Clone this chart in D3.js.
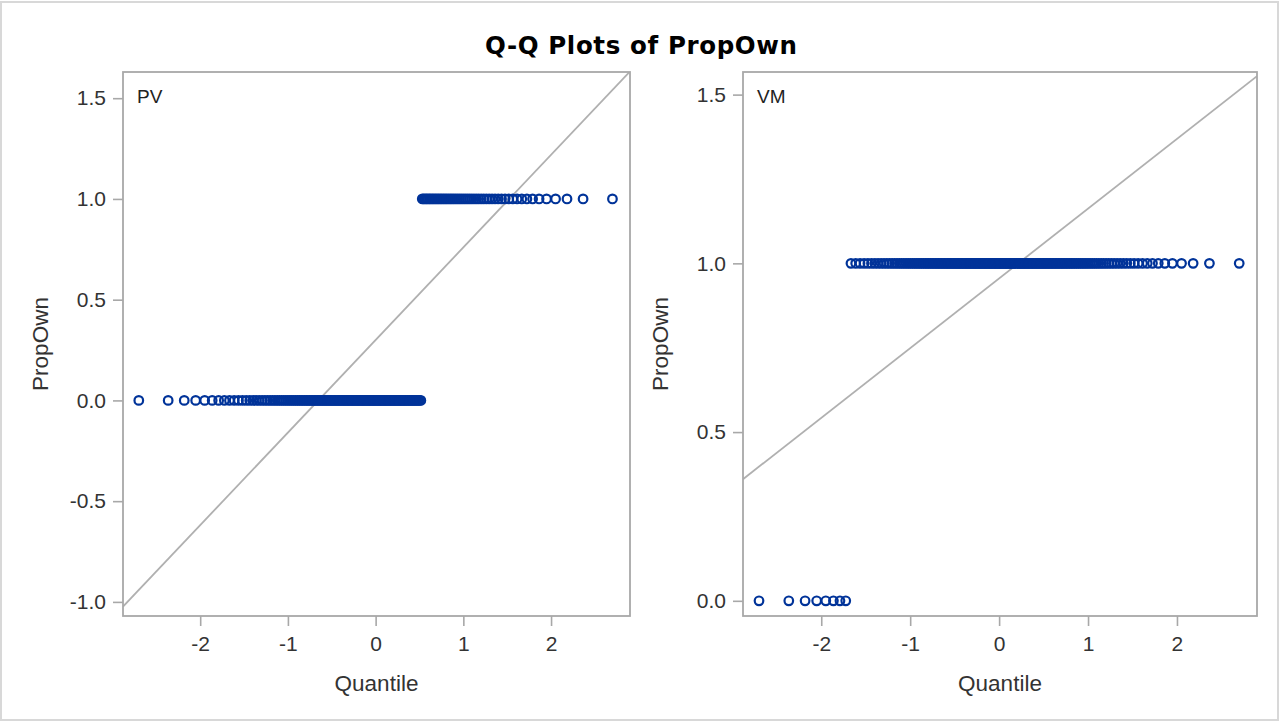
<!DOCTYPE html>
<html>
<head>
<meta charset="utf-8">
<script src="https://cdn.jsdelivr.net/npm/d3@7"></script>
<style>
  html, body { margin: 0; padding: 0; background: #fff; }
  svg { display: block; }
</style>
</head>
<body>
<svg id="chart" width="1280" height="722"></svg>
<script>
// PropOwn is a 0/1 variable; each panel holds one group's sample.
const groups = ["PV", "VM"];
const zeroCounts = [126, 8];   // observations with PropOwn = 0
const oneCounts = [54, 172];   // observations with PropOwn = 1

const xTicks = [-2, -1, 0, 1, 2];
const yTicksByGroup = [
  [-1.0, -0.5, 0.0, 0.5, 1.0, 1.5],
  [0.0, 0.5, 1.0, 1.5]
];
const xDomain = [-2.88, 2.90];
const yDomains = [[-1.07, 1.63], [-0.045, 1.567]];

const title = "Q-Q Plots of PropOwn";
const xLabel = "Quantile";
const yLabel = "PropOwn";

// Panel frames
const panels = [
  { x0: 123, x1: 630, y0: 72, y1: 616 },
  { x0: 743, x1: 1257, y0: 72, y1: 616 }
];

const markerColor = "#003399";
const refColor = "#b0b0b0";
const frameColor = "#a8a8a8";
const textColor = "#333333";
const fontFamily = "'Liberation Sans', Arial, sans-serif";

// Inverse standard normal CDF (Acklam's rational approximation)
function probit(p) {
  const a = [-3.969683028665376e+01, 2.209460984245205e+02, -2.759285104469687e+02,
             1.383577518672690e+02, -3.066479806614716e+01, 2.506628277459239e+00];
  const b = [-5.447609879822406e+01, 1.615858368580409e+02, -1.556989798598866e+02,
             6.680131188771972e+01, -1.328068155288572e+01];
  const c = [-7.784894002430293e-03, -3.223964580411365e-01, -2.400758277161838e+00,
             -2.549732539343734e+00, 4.374664141464968e+00, 2.938163982698783e+00];
  const d = [7.784695709041462e-03, 3.224671290700398e-01, 2.445134137142996e+00,
             3.754408661907416e+00];
  const pl = 0.02425, ph = 1 - pl;
  let q, r;
  if (p < pl) {
    q = Math.sqrt(-2 * Math.log(p));
    return (((((c[0]*q+c[1])*q+c[2])*q+c[3])*q+c[4])*q+c[5]) /
           ((((d[0]*q+d[1])*q+d[2])*q+d[3])*q+1);
  }
  if (p <= ph) {
    q = p - 0.5; r = q * q;
    return (((((a[0]*r+a[1])*r+a[2])*r+a[3])*r+a[4])*r+a[5])*q /
           (((((b[0]*r+b[1])*r+b[2])*r+b[3])*r+b[4])*r+1);
  }
  q = Math.sqrt(-2 * Math.log(1 - p));
  return -(((((c[0]*q+c[1])*q+c[2])*q+c[3])*q+c[4])*q+c[5]) /
          ((((d[0]*q+d[1])*q+d[2])*q+d[3])*q+1);
}

const fmt = v => d3.format(".1f")(v).replace("\u2212", "-");
const fmtX = v => d3.format("d")(v).replace("\u2212", "-");

const svg = d3.select("#chart");

// Outer border
svg.append("rect")
  .attr("x", 1).attr("y", 2).attr("width", 1277).attr("height", 718)
  .attr("fill", "#fff").attr("stroke", "#d8d8d8").attr("stroke-width", 2);

// Title
svg.append("text")
  .attr("x", 641).attr("y", 54)
  .attr("text-anchor", "middle")
  .attr("font-family", "'DejaVu Sans', Verdana, sans-serif")
  .attr("font-weight", "bold")
  .attr("font-size", 24.5)
  .attr("fill", "#000")
  .attr("textLength", 312)
  .attr("lengthAdjust", "spacing")
  .text(title);

groups.forEach((name, gi) => {
  const P = panels[gi];
  // Build the sorted sample and its normal quantiles (Blom scores)
  const values = [];
  for (let i = 0; i < zeroCounts[gi]; i++) values.push(0);
  for (let i = 0; i < oneCounts[gi]; i++) values.push(1);
  values.sort(d3.ascending);
  const n = values.length;
  const pts = values.map((v, i) => ({ q: probit((i + 1 - 0.375) / (n + 0.25)), v }));
  const mu = d3.mean(values);
  const sigma = d3.deviation(values);

  const x = d3.scaleLinear().domain(xDomain).range([P.x0, P.x1]);
  const y = d3.scaleLinear().domain(yDomains[gi]).range([P.y1, P.y0]);

  const g = svg.append("g");
  const clipId = "clip" + gi;
  svg.append("clipPath").attr("id", clipId)
    .append("rect").attr("x", P.x0).attr("y", P.y0)
    .attr("width", P.x1 - P.x0).attr("height", P.y1 - P.y0);

  // Normal reference line: mu + sigma * z
  g.append("line")
    .attr("clip-path", `url(#${clipId})`)
    .attr("x1", x(xDomain[0])).attr("y1", y(mu + sigma * xDomain[0]))
    .attr("x2", x(xDomain[1])).attr("y2", y(mu + sigma * xDomain[1]))
    .attr("stroke", refColor).attr("stroke-width", 1.8);

  // Observations
  g.append("g").attr("clip-path", `url(#${clipId})`)
    .selectAll("circle").data(pts).join("circle")
    .attr("cx", d => x(d.q)).attr("cy", d => y(d.v))
    .attr("r", 4.3)
    .attr("fill", "none")
    .attr("stroke", markerColor)
    .attr("stroke-width", 2.2);

  // Axes
  const xAxis = g.append("g")
    .attr("transform", `translate(0,${P.y1})`)
    .call(d3.axisBottom(x).tickValues(xTicks).tickFormat(fmtX).tickSize(10).tickPadding(10));
  const yAxis = g.append("g")
    .attr("transform", `translate(${P.x0},0)`)
    .call(d3.axisLeft(y).tickValues(yTicksByGroup[gi]).tickFormat(fmt).tickSize(10).tickPadding(7));
  [xAxis, yAxis].forEach(ax => {
    ax.select(".domain").remove();
    ax.selectAll(".tick line").attr("stroke", frameColor).attr("stroke-width", 1.6);
    ax.selectAll(".tick text")
      .attr("fill", textColor)
      .attr("font-family", fontFamily)
      .attr("font-size", 21);
  });

  // Frame
  g.append("rect")
    .attr("x", P.x0).attr("y", P.y0)
    .attr("width", P.x1 - P.x0).attr("height", P.y1 - P.y0)
    .attr("fill", "none").attr("stroke", frameColor).attr("stroke-width", 1.8);

  // Group label inside the frame
  g.append("text")
    .attr("x", P.x0 + 14).attr("y", P.y0 + 31)
    .attr("font-family", fontFamily).attr("font-size", 19)
    .attr("fill", "#222")
    .text(name);

  // Axis titles
  g.append("text")
    .attr("x", (P.x0 + P.x1) / 2).attr("y", 691)
    .attr("text-anchor", "middle")
    .attr("font-family", fontFamily).attr("font-size", 22.5)
    .attr("fill", textColor)
    .text(xLabel);
  g.append("text")
    .attr("transform", `translate(${P.x0 - 75},${(P.y0 + P.y1) / 2}) rotate(-90)`)
    .attr("text-anchor", "middle")
    .attr("font-family", fontFamily).attr("font-size", 22.5)
    .attr("fill", textColor)
    .text(yLabel);
});
</script>
</body>
</html>
